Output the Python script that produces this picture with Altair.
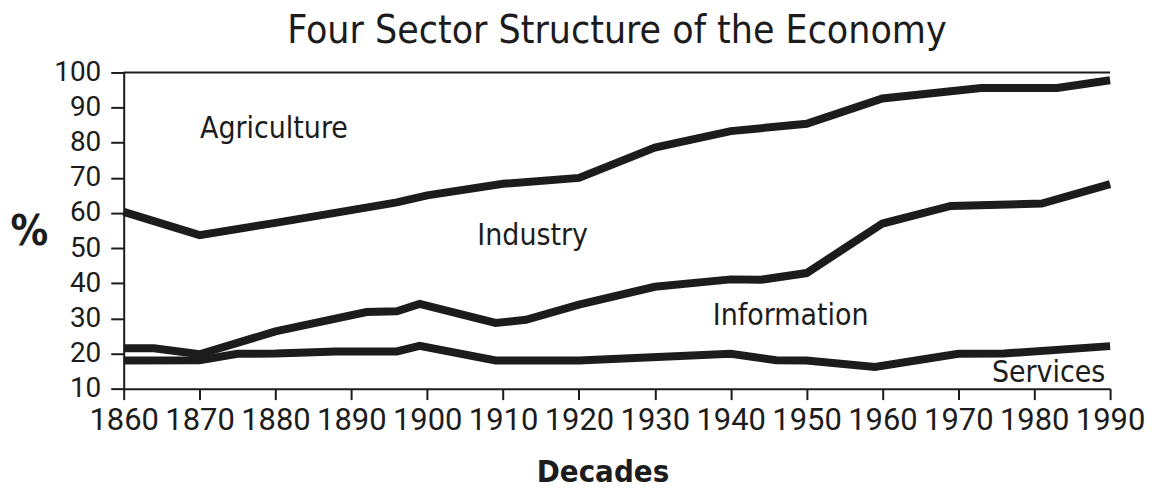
import altair as alt
import pandas as pd

# Agriculture / Industry boundary
agri_years = [1860, 1870, 1880, 1890, 1896, 1900, 1910, 1920, 1930, 1940, 1950, 1960, 1973, 1983, 1990]
agri_vals  = [60.3, 53.7, 57.2, 60.8, 63.0, 65.0, 68.3, 70.0, 78.6, 83.3, 85.4, 92.6, 95.6, 95.6, 97.8]

# Industry / Information boundary
info_years = [1860, 1864, 1870, 1880, 1892, 1896, 1899, 1909, 1913, 1920, 1930, 1940, 1944, 1950, 1960, 1969, 1981, 1990]
info_vals  = [21.5, 21.5, 19.8, 26.3, 31.8, 32.0, 34.1, 28.7, 29.6, 33.9, 39.0, 41.1, 41.0, 42.9, 57.0, 62.0, 62.7, 68.2]

# Information / Services boundary
serv_years = [1860, 1870, 1875, 1880, 1888, 1896, 1899, 1909, 1920, 1940, 1946, 1950, 1959, 1970, 1976, 1990]
serv_vals  = [18.0, 18.1, 19.9, 20.0, 20.6, 20.6, 22.2, 18.0, 18.0, 19.9, 18.1, 18.0, 16.2, 19.9, 20.0, 22.1]

label_text  = ["Agriculture", "Industry", "Information", "Services"]
label_year  = [1879.8, 1913.9, 1947.9, 1981.9]
label_pct   = [83.8, 53.4, 30.7, 14.5]

x_ticks = list(range(1860, 1991, 10))
y_ticks = list(range(10, 101, 10))

rows = []
for name, ys, vs in [("Agriculture", agri_years, agri_vals),
                     ("Information", info_years, info_vals),
                     ("Services", serv_years, serv_vals)]:
    for yr, v in zip(ys, vs):
        rows.append({"series": name, "year": yr, "pct": v})
lines_df = pd.DataFrame(rows)
labels_df = pd.DataFrame({"text": label_text, "year": label_year, "pct": label_pct})
top_df = pd.DataFrame({"pct": [100]})

FONT = "DejaVu Sans Condensed, DejaVu Sans, sans-serif"
NARROW = "Liberation Sans Narrow, Roboto, sans-serif"
INK = "#1c1c1c"

xscale = alt.Scale(domain=[1860, 1990], nice=False, zero=False)
yscale = alt.Scale(domain=[10, 100], nice=False, zero=False)

X_AXIS = alt.Axis(values=x_ticks, format="d", grid=False, tickSize=11,
                  tickColor=INK, tickWidth=2, domainColor=INK, domainWidth=2,
                  labelFont=NARROW, labelFontSize=31, labelColor=INK, labelPadding=6,
                  labelFlush=False, labelOverlap=False,
                  titleFont=FONT, titleFontSize=31, titleFontWeight="bold",
                  titleColor=INK, titleX=480, titleY=84, titleAlign="center",
                  titleBaseline="middle")
Y_AXIS = alt.Axis(values=y_ticks, format="d", grid=False, tickSize=13,
                  tickColor=INK, tickWidth=2, domainColor=INK, domainWidth=2,
                  labelFont=NARROW, labelFontSize=28, labelColor=INK, labelPadding=10,
                  labelFlush=False, labelOverlap=False, labelSeparation=0,
                  titleFont=FONT, titleFontSize=42, titleFontWeight="bold",
                  titleColor=INK, titleAngle=0, titleX=-95, titleY=159,
                  titleAlign="center", titleBaseline="middle")

def xenc():
    return alt.X("year:Q", scale=xscale, title="Decades", axis=X_AXIS)

def yenc():
    return alt.Y("pct:Q", scale=yscale, title="%", axis=Y_AXIS)

lines = alt.Chart(lines_df).mark_line(
    strokeWidth=8, color=INK, strokeCap="butt", strokeJoin="miter", clip=False
).encode(
    x=xenc(), y=yenc(),
    detail="series:N",
    order="year:Q",
)

top_rule = alt.Chart(top_df).mark_rule(
    color=INK, strokeWidth=2
).encode(y=yenc())

labels = alt.Chart(labels_df).mark_text(
    font=FONT, fontSize=30, color=INK, align="center", baseline="middle"
).encode(
    x=xenc(), y=yenc(),
    text="text:N",
)

chart = alt.layer(lines, top_rule, labels).properties(
    width=989, height=317,
    title=alt.TitleParams("Four Sector Structure of the Economy", font=FONT,
                          fontSize=39, fontWeight="normal", color=INK,
                          anchor="middle", offset=8),
    autosize=alt.AutoSizeParams(type="none"),
    padding={"left": 116, "top": 64, "right": 40, "bottom": 105},
).configure_view(stroke=None).configure_axis(labelOverlap=False)

chart.save("out.html", embed_options={"renderer": "svg", "actions": False})
